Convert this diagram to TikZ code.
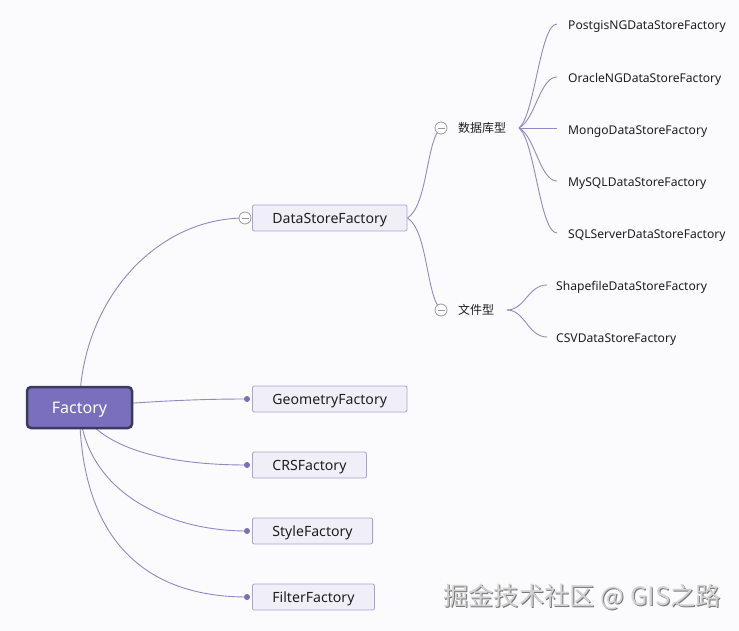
\documentclass[tikz,border=0pt]{standalone}
\usepackage{fontspec}
\setmainfont{Noto Sans}
\newfontfamily\cjk{Noto Sans CJK SC}
\pgfdeclarelayer{bg}
\pgfdeclarelayer{back}
\pgfsetlayers{back,bg,main}
\definecolor{lc}{RGB}{143,137,197}
\definecolor{subfill}{RGB}{240,239,248}
\definecolor{subdraw}{RGB}{168,163,210}
\definecolor{rootfill}{RGB}{121,111,188}
\definecolor{rootdraw}{RGB}{60,56,100}
\definecolor{dotc}{RGB}{122,112,184}
\definecolor{txt}{RGB}{30,30,30}
\definecolor{bgc}{RGB}{251,251,253}
\tikzset{
  x=1pt, y=-1pt,
  conn/.style={draw=lc, line width=0.9pt},
  rootbox/.style={rectangle, rounded corners=4pt, fill=rootfill, draw=rootdraw, line width=2.5pt,
    minimum width=105pt, minimum height=41pt, text=white, text depth=0pt, font=\fontsize{16}{18}\selectfont},
  subbox/.style={rectangle, rounded corners=2pt, fill=subfill, draw=subdraw, line width=0.8pt,
    anchor=west, minimum height=26pt, inner xsep=20pt, text=txt, text depth=0pt, font=\fontsize{14.1}{16}\selectfont},
  leaf/.style={anchor=west, inner sep=0pt, text=txt, font=\fontsize{12.1}{14}\selectfont},
  cnlab/.style={anchor=west, inner sep=0pt, text=txt, font=\cjk\fontsize{12}{14}\selectfont},
  fold/.style={circle, draw=gray!80, fill=white, line width=0.8pt, minimum size=12pt, inner sep=0pt,
    path picture={\draw[gray!80, line width=0.8pt] ([xshift=-3.5pt]path picture bounding box.center) -- ([xshift=3.5pt]path picture bounding box.center);}},
  dot/.style={circle, fill=dotc, minimum size=6pt, inner sep=0pt},
  wmark/.style={inner sep=0pt, font=\cjk\fontsize{25.3}{27}\selectfont}
}
\begin{document}
\begin{tikzpicture}
\begin{pgfonlayer}{back}
\fill[bgc] (0,0) rectangle (739,631);
\end{pgfonlayer}
\useasboundingbox (0,0) rectangle (739,631);

% root
\node[rootbox] (F) at (79.5,407.5) {Factory};

% level 1
\node[subbox] (DSF) at (252,218) {DataStoreFactory};
\node[subbox] (GF) at (252,399) {GeometryFactory};
\node[subbox] (CRS) at (252,465) {CRSFactory};
\node[subbox] (SF) at (252,531) {StyleFactory};
\node[subbox] (FF) at (252,597) {FilterFactory};

\node[fold] (c1) at (245,218) {};
\node[dot] (dg) at (247,399) {};
\node[dot] (dc) at (247,465) {};
\node[dot] (ds) at (247,531) {};
\node[dot] (df) at (247,597) {};

% level 2
\node[fold] (cdb) at (441,128) {};
\node[cnlab] (db) at (458,128) {数据库型};
\node[fold] (cfile) at (441,310) {};
\node[cnlab] (file) at (458,310) {文件型};
\coordinate (jdb) at (519,128);
\coordinate (jfile) at (507,310);

% leaves
\node[leaf] (l1) at (568,26.3) {PostgisNGDataStoreFactory};
\node[leaf] (l2) at (568,79.3) {OracleNGDataStoreFactory};
\node[leaf] (l3) at (568,131.3) {MongoDataStoreFactory};
\node[leaf] (l4) at (568,183.3) {MySQLDataStoreFactory};
\node[leaf] (l5) at (568,235.3) {SQLServerDataStoreFactory};
\node[leaf] (l6) at (556,287.3) {ShapefileDataStoreFactory};
\node[leaf] (l7) at (556,339.3) {CSVDataStoreFactory};

\begin{pgfonlayer}{bg}
\draw[conn] (F.center) .. controls (80,303) and (154,218) .. (c1.center);
\draw[conn] (F.center) .. controls (150,401) and (200,399) .. (dg.center);
\draw[conn] (F.center) .. controls (100,450) and (170,465) .. (dc.center);
\draw[conn] (F.center) .. controls (84,490) and (165,531) .. (ds.center);
\draw[conn] (F.center) .. controls (80,555) and (160,597) .. (df.center);

\draw[conn] (DSF.east) .. controls (428,205) and (426,140) .. (cdb.center);
\draw[conn] (DSF.east) .. controls (428,231) and (426,296) .. (cfile.center);

\draw[conn] (jdb) .. controls (535,115) and (540,24) .. ([xshift=-11pt]l1.west |- 0,24);
\draw[conn] (jdb) .. controls (535,120) and (540,77) .. ([xshift=-11pt]l2.west |- 0,77);
\draw[conn] (jdb) -- ([xshift=-11pt]l3.west |- jdb);
\draw[conn] (jdb) .. controls (535,136) and (540,181) .. ([xshift=-11pt]l4.west |- 0,181);
\draw[conn] (jdb) .. controls (535,141) and (540,233) .. ([xshift=-11pt]l5.west |- 0,233);

\draw[conn] (jfile) .. controls (525,310) and (528,285) .. ([xshift=-9pt]l6.west |- 0,285);
\draw[conn] (jfile) .. controls (525,310) and (528,337) .. ([xshift=-9pt]l7.west |- 0,337);
\end{pgfonlayer}

% watermark
\node[wmark, text=gray!95!black] (wm0) at (583,598) {掘金技术社区 @ GIS之路};
\node[wmark, text=gray!35] (wm) at (582,597) {掘金技术社区 @ GIS之路};
\end{tikzpicture}
\end{document}
